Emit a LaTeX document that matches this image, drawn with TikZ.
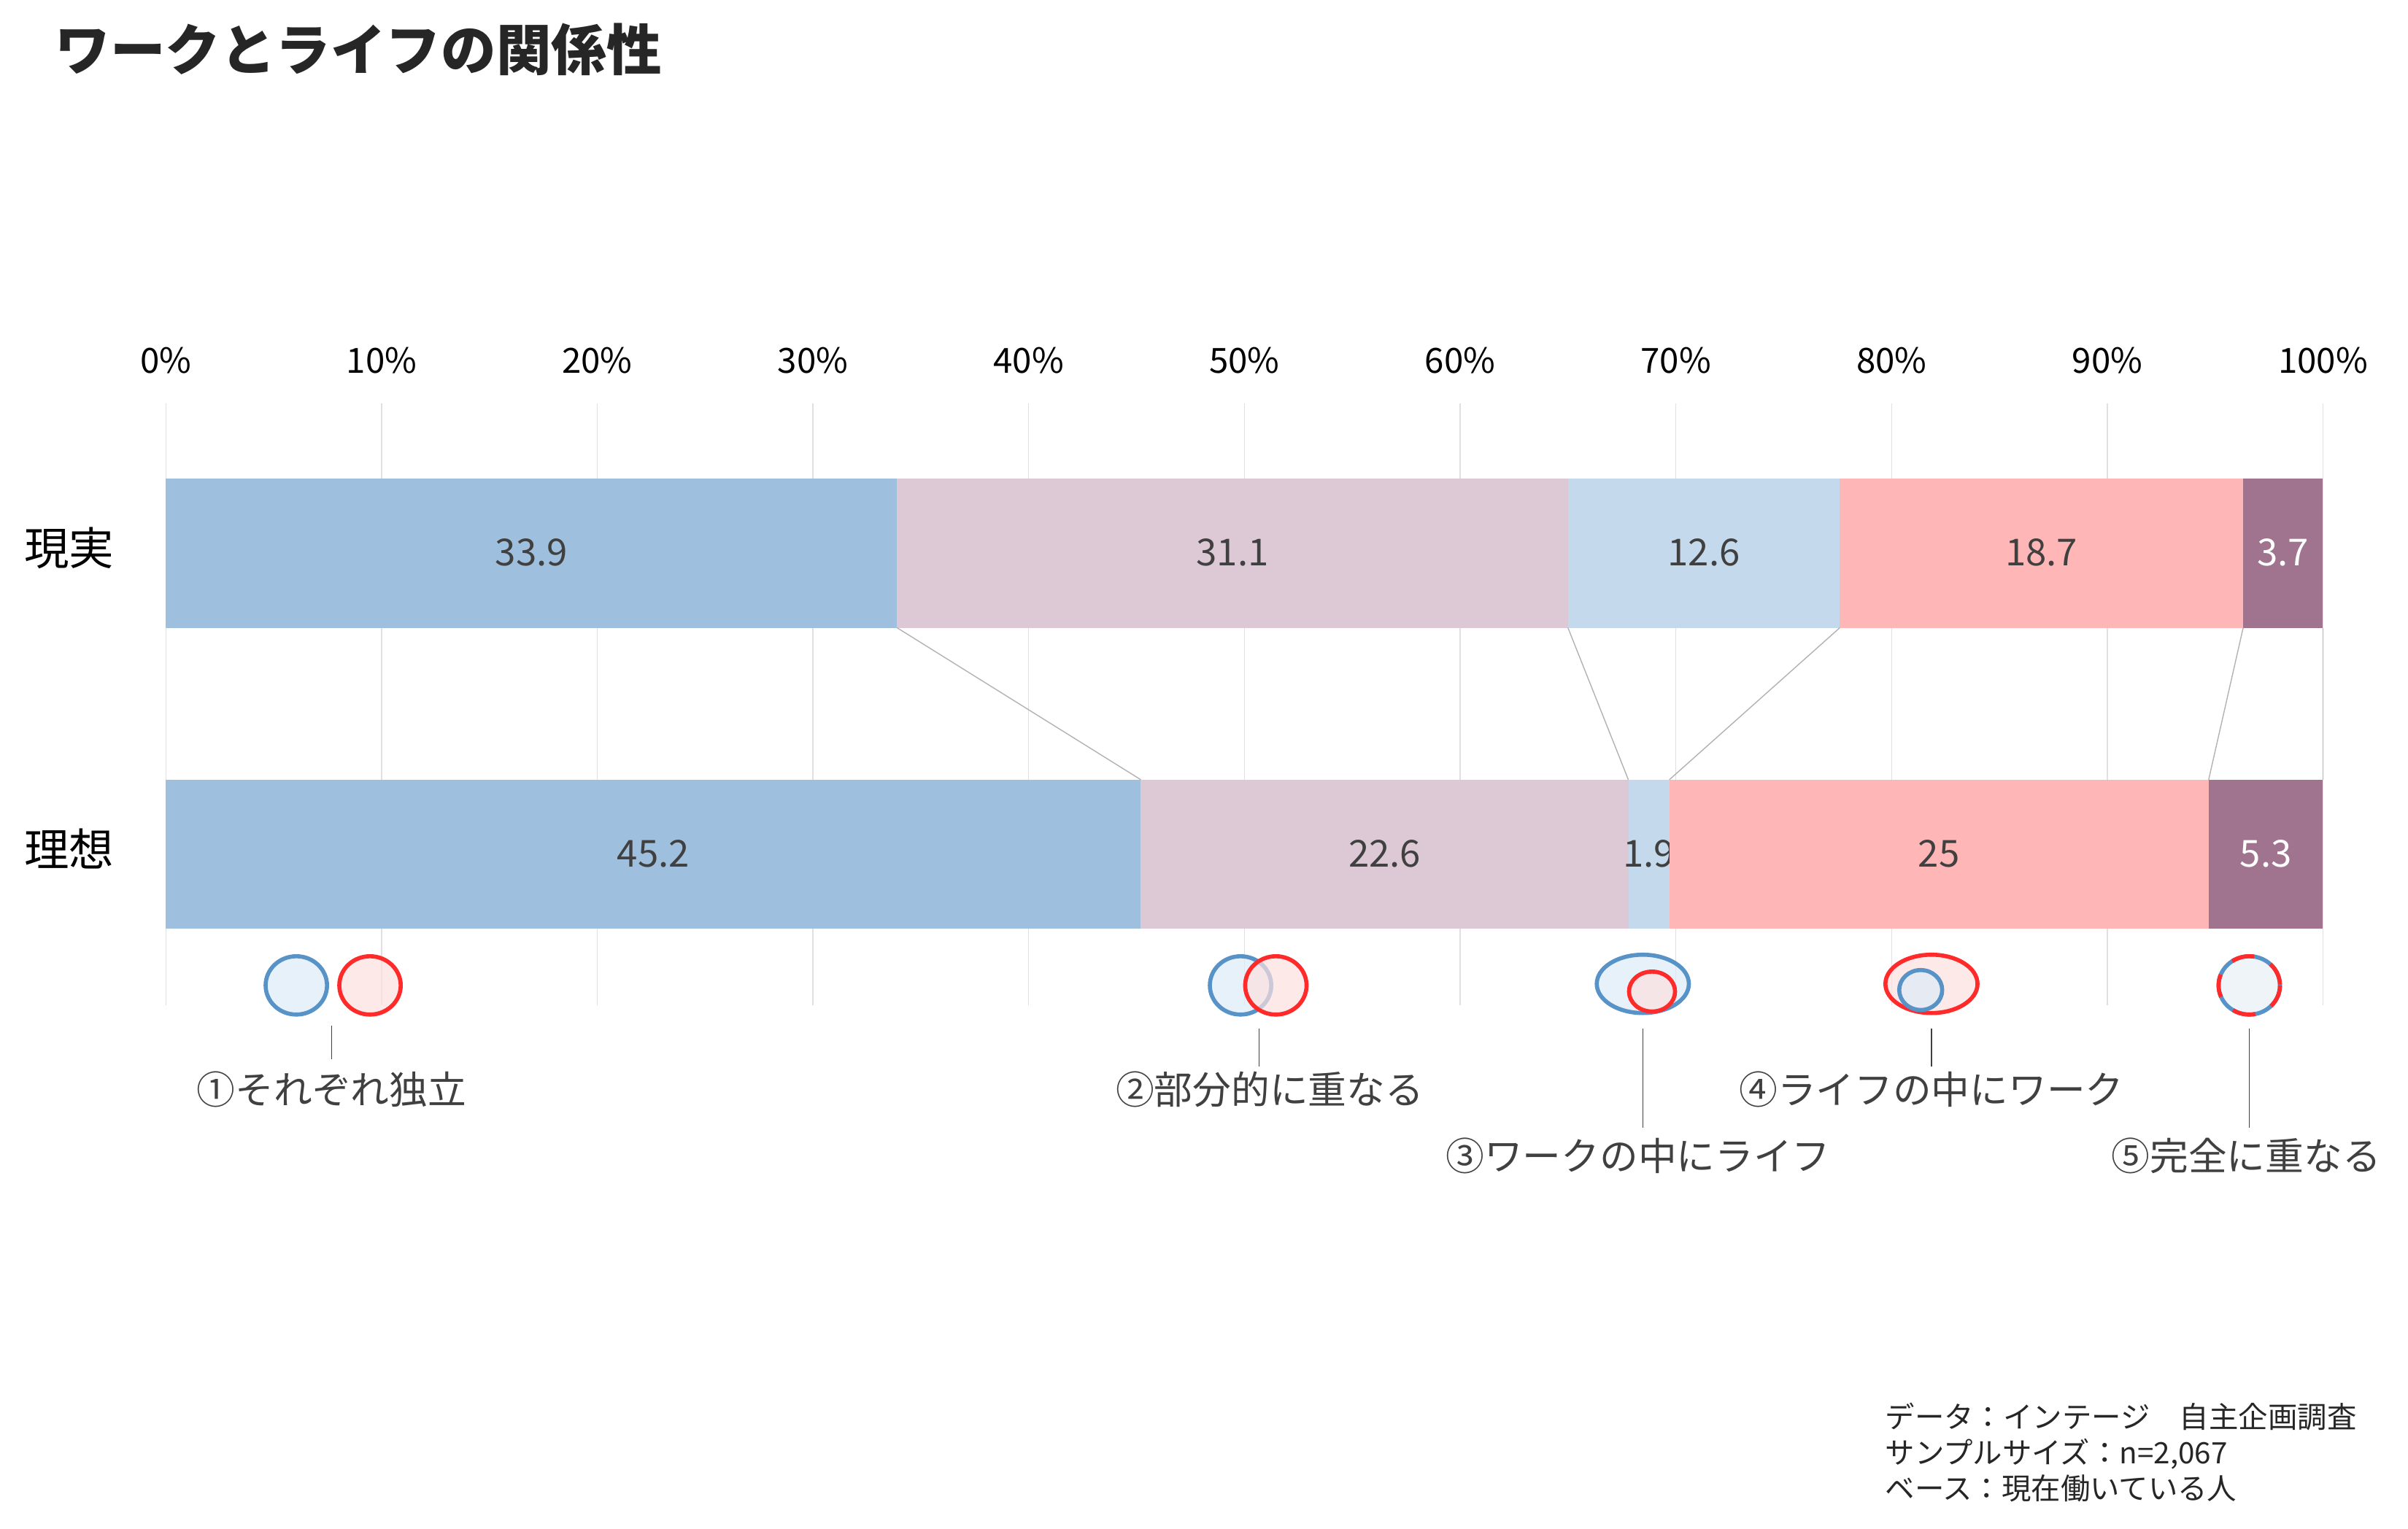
\documentclass[tikz,border=0pt]{standalone}
\usepackage{fontspec}
\setmainfont{Noto Sans CJK JP}
\usetikzlibrary{positioning}
\definecolor{cA}{HTML}{9EBFDD}
\definecolor{cB}{HTML}{DDC9D5}
\definecolor{cC}{HTML}{C5D9EC}
\definecolor{cD}{HTML}{FFB6B6}
\definecolor{cE}{HTML}{A0738F}
\definecolor{ringB}{HTML}{5893C8}
\definecolor{ringR}{HTML}{FF2A2A}
\definecolor{fillB}{HTML}{DDEBF8}
\definecolor{fillR}{HTML}{FDE0E0}
\definecolor{txt}{HTML}{404040}
\tikzstyle{tick}=[font=\fontsize{13.5}{16}\selectfont,text=black]
\tikzstyle{val}=[font=\fontsize{14.5}{17}\selectfont,text=txt]
\tikzstyle{lbl}=[font=\fontsize{15}{18}\selectfont,text=txt]
\tikzstyle{ringb}=[draw=ringB,line width=1.6pt,fill=fillB,fill opacity=.7,draw opacity=1]
\tikzstyle{ringr}=[draw=ringR,line width=1.6pt,fill=fillR,fill opacity=.7,draw opacity=1]
\def\lastname{cE}
\newcommand\drawbar[3]{%
  \xdef\acc{0}%
  \foreach \v/\c in {#3} {
    \pgfmathsetmacro\xa{108+14.05*\acc}
    \pgfmathsetmacro\xb{108+14.05*(\acc+\v)}
    \fill[\c] (\xa,#2) rectangle (\xb,#2+97);
    \pgfmathsetmacro\xm{(\xa+\xb)/2}
    \edef\cn{\c}
    \ifx\cn\lastname
      \node[val,text=white] (#1\c) at (\xm,#2+48) {\v};
    \else
      \node[val] (#1\c) at (\xm,#2+48) {\v};
    \fi
    \pgfmathsetmacro\acc{\acc+\v}\xdef\acc{\acc}
  }}
\begin{document}
\begin{tikzpicture}[x=0.02104cm,y=-0.02104cm]
\useasboundingbox (0,0) rectangle (1568.4,995.7);
\node[anchor=west,font=\fontsize{21.5}{24}\selectfont\bfseries,text=black!85] (title) at (30,32) {ワークとライフの関係性};
% grid and ticks
\foreach \p in {0,10,...,100} {
  \draw[black!12] (108+14.05*\p,263) -- (108+14.05*\p,655);
  \node[tick] (t\p) at (108+14.05*\p,235) {\p\%};
}
% bars
\drawbar{r}{312}{33.9/cA,31.1/cB,12.6/cC,18.7/cD,3.7/cE}
\drawbar{i}{508}{45.2/cA,22.6/cB,1.9/cC,25/cD,5.3/cE}
\node[font=\fontsize{17.5}{20}\selectfont,text=black] (real) at (45,357) {現実};
\node[font=\fontsize{17.5}{20}\selectfont,text=black] (ideal) at (45,553) {理想};
% connectors between bars
\foreach \a/\b in {33.9/45.2,65/67.8,77.6/69.7,96.3/94.7,100/100}
  \draw[black!30] (108+14.05*\a,409) -- (108+14.05*\b,508);
% icons
\draw[ringb] (193,642) ellipse (20 and 19);
\draw[ringr] (241,642) ellipse (20 and 19);
\draw[ringb] (808,642) ellipse (20 and 19);
\draw[ringr] (831,642) ellipse (20 and 19);
\draw[ringb] (1070,641) ellipse (30 and 19);
\draw[ringr] (1076,646) ellipse (15 and 13);
\draw[ringr] (1258,641) ellipse (30 and 19);
\draw[ringb] (1251,645) ellipse (14 and 13);
\draw[ringb,fill=cC!40] (1465,642) ellipse (20 and 19);
\draw[ringR,line width=1.6pt,dash pattern=on 9pt off 7pt] (1465,642) ellipse (20 and 19);
% labels
\node[lbl] (l1) at (216,710) {①それぞれ独立};
\node[lbl] (l2) at (827,710) {②部分的に重なる};
\node[lbl] (l3) at (1067,753) {③ワークの中にライフ};
\node[lbl] (l4) at (1258,710) {④ライフの中にワーク};
\node[lbl] (l5) at (1463,753) {⑤完全に重なる};
\draw[txt] (216,668) -- (216,690);
\draw[txt] (820,670) -- (820,695);
\draw[txt] (1070,670) -- (1070,735);
\draw[txt] (1258,670) -- (1258,695);
\draw[txt] (1465,670) -- (1465,735);
% source
\node[anchor=north west,align=left,font=\fontsize{11.5}{14}\selectfont,text=black!85] (src) at (1222,908)
  {データ：インテージ　自主企画調査\\サンプルサイズ：n=2,067\\ベース：現在働いている人};
\end{tikzpicture}
\end{document}
